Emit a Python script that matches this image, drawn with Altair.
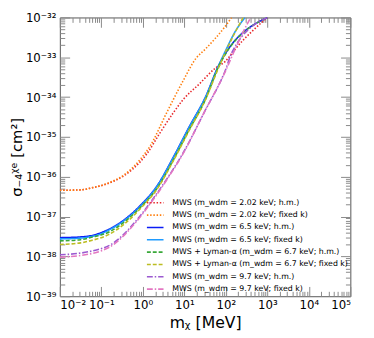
import altair as alt
import pandas as pd

# ---- data (log10 of m_chi [MeV] and log10 of sigma [cm^2]) ----
series_names = [
    "MWS (m_wdm = 2.02 keV; h.m.)",
    "MWS (m_wdm = 2.02 keV; fixed k)",
    "MWS (m_wdm = 6.5 keV; h.m.)",
    "MWS (m_wdm = 6.5 keV; fixed k)",
    "MWS + Lyman-α (m_wdm = 6.7 keV; h.m.)",
    "MWS + Lyman-α (m_wdm = 6.7 keV; fixed k)",
    "MWS (m_wdm = 9.7 keV; h.m.)",
    "MWS (m_wdm = 9.7 keV; fixed k)",
]
series_colors = ["#e8282b", "#ff7f0e", "#0b1cf5", "#1f9bff",
                 "#39a839", "#bcbd22", "#9b59d0", "#e377c2"]
series_dashes = [[1.5, 1.8], [1.5, 1.8], [1, 0], [1, 0],
                 [4, 2], [4, 2], [6, 2, 1.5, 2], [6, 2, 1.5, 2]]

red_logm = [-2, -1.5, -1.24, -0.84, -0.45, -0.06, 0.1, 0.4, 0.73, 0.965, 1.36, 1.75, 1.99, 2.22, 3.0]
red_logs = [-36.34, -36.33, -36.28, -36.17, -35.97, -35.62, -35.42, -34.92, -34.4, -34.07, -33.67, -33.27, -33.1, -32.8, -32.0]

orange_logm = [-2, -1.5, -1.24, -0.84, -0.45, -0.06, 0.18, 0.57, 0.965, 1.278, 1.51, 1.95, 2.14]
orange_logs = [-36.34, -36.33, -36.28, -36.16, -35.95, -35.56, -35.22, -34.4, -33.6, -33.03, -32.79, -32.27, -32.0]

blue_logm = [-2, -1.5, -1.3, -1.0, -0.84, -0.45, -0.06, 0.335, 0.75, 1.1, 1.514, 1.83, 3.0]
blue_logs = [-37.53, -37.51, -37.49, -37.4, -37.33, -37.08, -36.72, -36.24, -35.48, -34.78, -33.99, -33.2, -32.0]

lblue_logm = [-2, -1.5, -1.3, -1.0, -0.84, -0.45, -0.06, 0.335, 0.75, 1.1, 1.514, 1.83, 2.0, 2.2, 2.46]
lblue_logs = [-37.56, -37.54, -37.51, -37.43, -37.35, -37.1, -36.74, -36.25, -35.49, -34.79, -33.99, -33.2, -32.82, -32.4, -32.0]

green_logm = [-2, -1.5, -1.24, -0.84, -0.45, -0.06, 0.335, 0.75, 1.1, 1.514, 1.83, 3.0]
green_logs = [-37.61, -37.58, -37.52, -37.4, -37.14, -36.77, -36.3, -35.55, -34.85, -34.05, -33.22, -32.0]

yellow_logm = [-2, -1.5, -1.24, -0.84, -0.45, -0.06, 0.335, 0.75, 1.1, 1.514, 1.83, 2.0, 2.2, 2.42]
yellow_logs = [-37.7, -37.66, -37.6, -37.46, -37.19, -36.8, -36.32, -35.57, -34.87, -34.05, -33.25, -32.85, -32.42, -32.0]

purple_logm = [-2, -1.3, -0.69, -0.215, 0.26, 0.65, 0.96, 1.47, 1.986, 2.15, 3.0]
purple_logs = [-37.96, -37.88, -37.65, -37.17, -36.53, -35.94, -35.42, -34.4, -33.33, -32.87, -32.0]

pink_logm = [-2, -1.24, -0.69, -0.215, 0.26, 0.65, 0.96, 1.47, 1.986, 2.18, 2.4, 2.6]
pink_logs = [-38.02, -37.93, -37.69, -37.2, -36.56, -35.96, -35.44, -34.4, -33.36, -32.9, -32.4, -32.0]

all_logm = [red_logm, orange_logm, blue_logm, lblue_logm, green_logm, yellow_logm, purple_logm, pink_logm]
all_logs = [red_logs, orange_logs, blue_logs, lblue_logs, green_logs, yellow_logs, purple_logs, pink_logs]

x_major = [10.0 ** e for e in range(-2, 6)]
x_minor = [k * 10.0 ** e for e in range(-2, 5) for k in range(2, 10)]
y_major = [10.0 ** e for e in range(-39, -31)]
y_minor = [k * 10.0 ** e for e in range(-39, -32) for k in range(2, 10)]

rows = []
for name, lm, ls in zip(series_names, all_logm, all_logs):
    for i, (a, b) in enumerate(zip(lm, ls)):
        rows.append({"series": name, "m": 10.0 ** a, "sigma": 10.0 ** b, "i": i})
df = pd.DataFrame(rows)

SUP = "['⁰','¹','²','³','⁴','⁵','⁶','⁷','⁸','⁹']"
E = "round(log(datum.value)/LN10)"
label_expr = (f"'10' + ({E} < 0 ? '⁻' : '') + (abs({E}) >= 10 ? {SUP}[floor(abs({E})/10)] : '') "
              f"+ {SUP}[abs({E}) % 10]")

FONT = "DejaVu Sans"
TICK = "#888888"


def axis(orient, values, size, labels=False, title=None, lpad=3, tpad=4, tsize=16):
    kw = dict(orient=orient, values=values, tickSize=size, offset=-size, domain=False,
              grid=False, tickColor=TICK, tickWidth=1, labels=labels, title=title)
    if labels:
        kw.update(labelExpr=label_expr, labelFont=FONT, labelFontSize=12,
                  labelColor="black", labelPadding=lpad)
    if title:
        kw.update(titleFont=FONT, titleFontSize=tsize, titleFontWeight="normal",
                  titleColor="black", titlePadding=tpad)
    return alt.Axis(**kw)


xs = alt.Scale(type="log", domain=[1e-2, 1e5], nice=False)
ys = alt.Scale(type="log", domain=[1e-39, 1e-32], nice=False)

legend = alt.Legend(orient="none", legendX=92, legendY=184, title=None,
                    symbolType="M-2,0H2", symbolSize=72, symbolStrokeWidth=1.6,
                    labelFont=FONT, labelFontSize=8, labelColor="black", labelLimit=300,
                    labelOffset=12, rowPadding=2.6, padding=0)

lines = alt.Chart(df).mark_line(strokeWidth=1.6, clip=True, interpolate="monotone").encode(
    x=alt.X("m:Q", scale=xs, axis=axis("bottom", x_major, 10, labels=True,
                                        title="mᵪ   [MeV]", lpad=4, tpad=4)),
    y=alt.Y("sigma:Q", scale=ys, axis=axis("left", y_major, 10, labels=True,
                                            title="σ₋₄ᵡᵉ   [cm²]", lpad=4, tpad=1, tsize=15)),
    color=alt.Color("series:N", scale=alt.Scale(domain=series_names, range=series_colors),
                    legend=legend, sort=series_names),
    strokeDash=alt.StrokeDash("series:N", scale=alt.Scale(domain=series_names, range=series_dashes),
                              legend=legend, sort=series_names),
    order="i:Q",
)

def ghost(xax, yax):
    return alt.Chart(df).mark_point(opacity=0).encode(
        x=alt.X("m:Q", scale=xs, axis=xax),
        y=alt.Y("sigma:Q", scale=ys, axis=yax),
    )

g1 = ghost(axis("bottom", x_minor, 5), axis("left", y_minor, 5))
g2 = ghost(axis("top", x_major, 10), axis("right", y_major, 10))
g3 = ghost(axis("top", x_minor, 5), axis("right", y_minor, 5))

chart = alt.layer(lines, g1, g2, g3).resolve_axis(x="independent", y="independent").properties(
    width=297, height=285,
    autosize=alt.AutoSizeParams(type="none"),
    padding={"left": 53, "top": 6, "right": 16, "bottom": 38},
).configure_view(stroke="#555555", strokeWidth=1)

chart.save("out.html", embed_options={"renderer": "svg", "actions": False})
